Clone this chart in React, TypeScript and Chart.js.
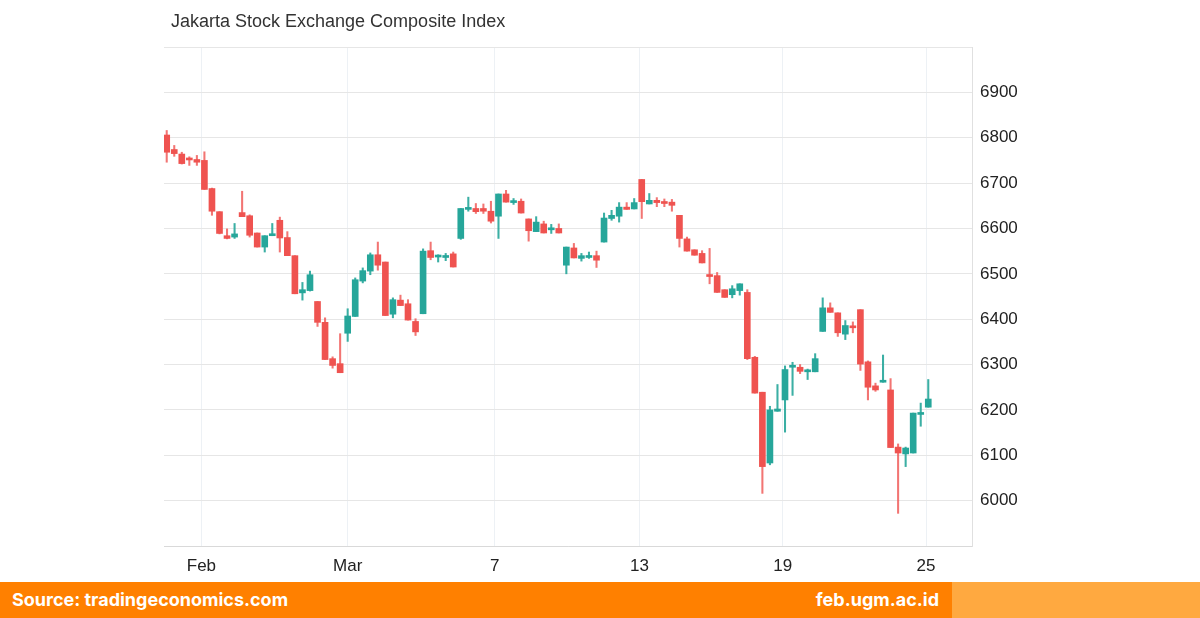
import React, { useEffect, useRef } from "react";
import { Chart, registerables } from "chart.js";

Chart.register(...registerables);

// OHLC values, one entry per candle
const opens = [
  6806, 6774, 6764, 6753, 6752, 6750, 6688, 6637, 6584, 6581,
  6635, 6628, 6590, 6559, 6584, 6618, 6580, 6540, 6458, 6463,
  6439, 6393, 6313, 6302, 6369, 6406, 6484, 6506, 6542, 6526,
  6411, 6442, 6434, 6395, 6412, 6551, 6537, 6536, 6544, 6578,
  6642, 6644, 6644, 6638, 6627, 6676, 6657, 6660, 6621, 6593,
  6610, 6597, 6600, 6519, 6557, 6534, 6536, 6540, 6570, 6622,
  6627, 6647, 6643, 6708, 6654, 6662, 6657, 6658, 6629, 6577,
  6553, 6545, 6496, 6496, 6465, 6454, 6463, 6459, 6316, 6239,
  6083, 6197, 6222, 6294, 6294, 6284, 6284, 6373, 6425, 6414,
  6367, 6383, 6421, 6306, 6253, 6261, 6244, 6118, 6103, 6105,
  6190, 6206,
];
const highs = [
  6816, 6783, 6768, 6758, 6761, 6769, 6689, 6637, 6599, 6611,
  6682, 6630, 6590, 6584, 6611, 6625, 6593, 6540, 6481, 6506,
  6439, 6403, 6317, 6368, 6423, 6491, 6513, 6546, 6570, 6526,
  6447, 6453, 6443, 6401, 6555, 6570, 6542, 6545, 6548, 6644,
  6669, 6655, 6654, 6660, 6676, 6684, 6666, 6665, 6621, 6626,
  6616, 6609, 6610, 6559, 6567, 6545, 6548, 6550, 6634, 6640,
  6657, 6657, 6666, 6708, 6677, 6668, 6665, 6664, 6629, 6581,
  6553, 6551, 6556, 6503, 6465, 6474, 6478, 6465, 6318, 6239,
  6208, 6256, 6297, 6305, 6300, 6290, 6324, 6447, 6436, 6414,
  6397, 6394, 6421, 6308, 6259, 6321, 6269, 6125, 6118, 6193,
  6215, 6267,
];
const lows = [
  6746, 6759, 6742, 6739, 6739, 6686, 6629, 6588, 6577, 6578,
  6626, 6581, 6559, 6548, 6584, 6548, 6540, 6456, 6442, 6462,
  6384, 6311, 6292, 6282, 6351, 6406, 6480, 6498, 6508, 6408,
  6403, 6430, 6398, 6364, 6412, 6531, 6526, 6529, 6515, 6576,
  6638, 6633, 6633, 6612, 6578, 6658, 6653, 6634, 6572, 6593,
  6590, 6589, 6590, 6500, 6535, 6528, 6534, 6514, 6570, 6618,
  6614, 6642, 6643, 6622, 6654, 6648, 6648, 6638, 6559, 6550,
  6541, 6524, 6478, 6459, 6448, 6447, 6453, 6311, 6237, 6016,
  6079, 6197, 6151, 6232, 6280, 6267, 6284, 6373, 6415, 6362,
  6355, 6370, 6287, 6222, 6241, 6261, 6117, 5972, 6075, 6105,
  6164, 6206,
];
const closes = [
  6768, 6765, 6743, 6751, 6746, 6686, 6638, 6589, 6578, 6588,
  6626, 6585, 6559, 6584, 6588, 6579, 6540, 6456, 6465, 6498,
  6393, 6311, 6298, 6282, 6407, 6487, 6507, 6542, 6519, 6408,
  6443, 6430, 6398, 6372, 6550, 6536, 6540, 6538, 6515, 6644,
  6644, 6637, 6638, 6616, 6676, 6658, 6660, 6634, 6595, 6614,
  6590, 6599, 6590, 6559, 6535, 6540, 6538, 6530, 6623, 6629,
  6647, 6642, 6657, 6659, 6662, 6657, 6655, 6651, 6578, 6550,
  6541, 6524, 6494, 6459, 6448, 6467, 6478, 6313, 6237, 6075,
  6200, 6202, 6289, 6297, 6285, 6286, 6313, 6425, 6415, 6370,
  6386, 6381, 6301, 6250, 6244, 6265, 6117, 6105, 6116, 6193,
  6192, 6224,
];

const tickPositions = [4.6, 24, 43.5, 62.7, 81.7, 100.7];
const tickLabels = ["Feb", "Mar", "7", "13", "19", "25"];
const yLabelMin = 6000;
const yLabelMax = 6900;

const UP = "#26a69a";
const DOWN = "#ef5350";
const UP_WICK = "rgba(38,166,154,0.9)";
const DOWN_WICK = "rgba(239,83,80,0.8)";
const AXIS_FONT = "'Liberation Sans', Arial, sans-serif";

function CandleChart() {
  const ref = useRef<HTMLCanvasElement>(null);
  useEffect(() => {
    const idx = opens.map((_, i) => i);
    const bodyColors = idx.map((i) => (closes[i] >= opens[i] ? UP : DOWN));
    const wickColors = idx.map((i) => (closes[i] >= opens[i] ? UP_WICK : DOWN_WICK));
    const chart = new Chart(ref.current!, {
      type: "bar",
      data: {
        datasets: [
          {
            label: "body",
            data: idx.map((i) => ({ x: i, y: [opens[i], closes[i]] })) as any,
            backgroundColor: bodyColors,
            barThickness: 6,
            minBarLength: 2,
            grouped: false,
            order: 0,
          } as any,
          {
            label: "wick",
            data: idx.map((i) => ({ x: i, y: [lows[i], highs[i]] })) as any,
            backgroundColor: wickColors,
            barThickness: 1.4,
            grouped: false,
            order: 1,
          } as any,
        ],
      },
      options: {
        animation: false,
        responsive: false,
        devicePixelRatio: 1,
        layout: { padding: { left: 164, top: 47, right: 0, bottom: 0 } },
        plugins: {
          legend: { display: false },
          tooltip: { enabled: false },
          title: { display: false },
        },
        scales: {
          x: {
            type: "linear",
            min: -0.36,
            max: 106.8,
            offset: false,
            grid: { color: "#edf1f5", drawTicks: false, offset: false },
            border: { color: "#d9d9d9" },
            afterBuildTicks: (s: any) => {
              s.ticks = tickPositions.map((v) => ({ value: v }));
            },
            afterFit: (s: any) => {
              s.height = 36;
            },
            ticks: {
              autoSkip: false,
              maxRotation: 0,
              padding: 10,
              color: "#222",
              font: { family: AXIS_FONT, size: 17 },
              callback: (_v: any, i: number) => tickLabels[i],
            },
          },
          y: {
            position: "right",
            min: 5900,
            max: 7000,
            grid: { color: "#e6e6e6", drawTicks: false },
            border: { color: "#e0e0e0" },
            afterFit: (s: any) => {
              s.width = 228;
            },
            ticks: {
              stepSize: 100,
              padding: 8,
              color: "#222",
              font: { family: AXIS_FONT, size: 17 },
              callback: (v: any) =>
                v >= yLabelMin && v <= yLabelMax ? String(v) : "",
            },
          },
        },
      } as any,
    });
    return () => chart.destroy();
  }, []);
  return <canvas ref={ref} width={1200} height={582} style={{ display: "block" }} />;
}

const footerText = {
  position: "absolute" as const,
  top: 582,
  height: 36,
  lineHeight: "36px",
  fontFamily: "Inter, Roboto, sans-serif",
  fontWeight: 700,
  fontSize: 18,
  color: "#fff",
  whiteSpace: "nowrap" as const,
};

export default function App() {
  return (
    <div
      style={{
        position: "fixed",
        left: 0,
        top: 0,
        width: 1200,
        height: 618,
        background: "#fff",
        overflow: "hidden",
      }}
    >
      <div style={{ position: "absolute", left: 0, top: 0, width: 1200, height: 582 }}>
        <CandleChart />
      </div>
      <div
        style={{
          position: "absolute",
          left: 171,
          top: 11,
          fontFamily: "'Liberation Sans', Arial, sans-serif",
          fontSize: 18,
          color: "#333",
          whiteSpace: "nowrap",
        }}
      >
        Jakarta Stock Exchange Composite Index
      </div>
      <div
        style={{
          position: "absolute",
          left: 0,
          top: 582,
          width: 952,
          height: 36,
          background: "#ff8000",
        }}
      />
      <div
        style={{
          position: "absolute",
          left: 952,
          top: 582,
          width: 248,
          height: 36,
          background: "#ffa940",
        }}
      />
      <div style={{ ...footerText, left: 12 }}>Source: tradingeconomics.com</div>
      <div style={{ ...footerText, right: 1200 - 939, textAlign: "right" }}>feb.ugm.ac.id</div>
    </div>
  );
}
